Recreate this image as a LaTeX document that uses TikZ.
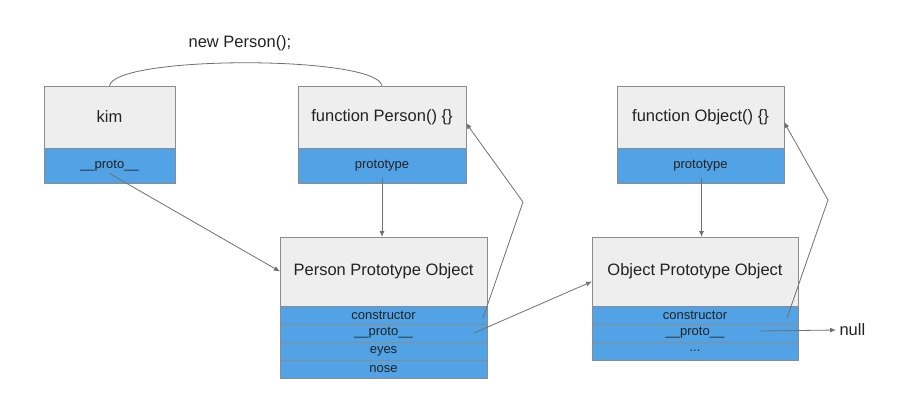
\documentclass[tikz,border=0pt]{standalone}
\usepackage{fontspec}
\setmainfont{Liberation Sans}
\usepackage{tikz}
\usetikzlibrary{positioning, arrows.meta}

\definecolor{headgray}{HTML}{EEEEEE}
\definecolor{slotblue}{HTML}{52A3E5}
\definecolor{boxline}{HTML}{8C8C8C}
\definecolor{linkgray}{HTML}{707070}
\definecolor{inkdark}{HTML}{222222}

\begin{document}
\begin{tikzpicture}[x=1pt, y=-1pt, >={Latex[length=6pt, width=5pt]},
		head/.style={draw=boxline, fill=headgray, outer sep=0pt, text=inkdark,
				font=\fontsize{16.5}{19}\selectfont, minimum height=62pt},
		slot/.style={draw=boxline, fill=slotblue, outer sep=0pt, text=inkdark,
				font=\fontsize{13}{14}\selectfont, inner sep=0pt},
		link/.style={draw=linkgray, line width=0.8pt}]

		\fill[white] (0,0) rectangle (920,416);
		\useasboundingbox (0,0) rectangle (920,416);

		% Row 1: kim and the two constructor functions
		\node[head, minimum width=131pt, anchor=north west] (kimh) at (44,86) {kim};
		\node[slot, minimum width=131pt, minimum height=35pt, below=0pt of kimh] (kimp) {\_\_proto\_\_};

		\node[head, minimum width=168pt, anchor=north west] (pfh) at (298,86) {function Person() \{\}};
		\node[slot, minimum width=168pt, minimum height=35pt, below=0pt of pfh] (pfp) {prototype};

		\node[head, minimum width=167pt, anchor=north west] (ofh) at (617,86) {function Object() \{\}};
		\node[slot, minimum width=167pt, minimum height=35pt, below=0pt of ofh] (ofp) {prototype};

		% Row 2: Person Prototype Object
		\node[head, minimum width=207pt, minimum height=69pt, anchor=north west] (pph) at (280,237) {Person Prototype Object};
		\node[slot, minimum width=207pt, minimum height=18pt, below=0pt of pph] (ppc) {constructor};
		\node[slot, minimum width=207pt, minimum height=18pt, below=0pt of ppc] (ppp) {\_\_proto\_\_};
		\node[slot, minimum width=207pt, minimum height=18pt, below=0pt of ppp] (ppe) {eyes};
		\node[slot, minimum width=207pt, minimum height=18pt, below=0pt of ppe] (ppn) {nose};

		% Row 2: Object Prototype Object
		\node[head, minimum width=206pt, minimum height=69pt, anchor=north west] (oph) at (592,237) {Object Prototype Object};
		\node[slot, minimum width=206pt, minimum height=18pt, below=0pt of oph] (opc) {constructor};
		\node[slot, minimum width=206pt, minimum height=18pt, below=0pt of opc] (opp) {\_\_proto\_\_};
		\node[slot, minimum width=206pt, minimum height=18pt, below=0pt of opp] (opd) {...};

		% Labels
		\node[text=inkdark, font=\fontsize{16.5}{19}\selectfont] (newp) at (240,43) {new Person();};
		\node[text=inkdark, font=\fontsize{16.5}{19}\selectfont, anchor=west] (null) at (836,330) {null};

		% --- Connections ---

		% new Person();
		\draw[link] (kimh.north) .. controls +(4,-31) and +(-4,-31) .. (pfh.north);

		% __proto__ links
		\draw[link, ->] ([yshift=-8pt] kimp.center) -- (pph.west);
		\draw[link, ->] ([xshift=-13pt] ppp.east) -- ([yshift=-10pt] oph.west);
		\draw[link, ->] ([xshift=-38pt, yshift=2pt] opp.east) -- (null.west);

		% prototype links
		\draw[link, ->] ([yshift=-12pt] pfp.center) -- (pfp.center |- pph.north);
		\draw[link, ->] ([xshift=1pt, yshift=-12pt] ofp.center) -- ([xshift=1pt] ofp.center |- oph.north);

		% constructor links
		\coordinate (pbend) at (523,202);
		\coordinate (obend) at (828,200);
		\draw[link, ->] ([xshift=-4pt, yshift=-3pt] ppc.east) -- (pbend) -- ([yshift=-6pt] pfh.east);
		\draw[link, ->] ([xshift=-11pt, yshift=-3pt] opc.east) -- (obend) -- ([yshift=-5pt] ofh.east);

	\end{tikzpicture}
\end{document}
